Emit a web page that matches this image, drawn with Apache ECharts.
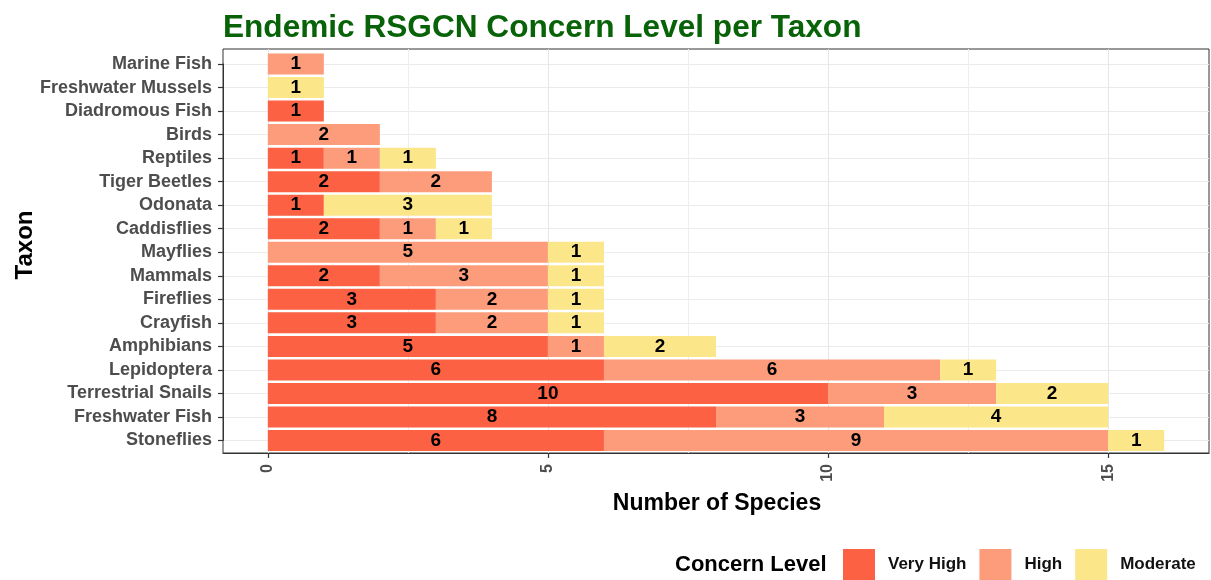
<!DOCTYPE html>
<html>
<head>
<meta charset="utf-8">
<title>Endemic RSGCN Concern Level per Taxon</title>
<script src="https://cdn.jsdelivr.net/npm/echarts@6/dist/echarts.min.js"></script>
<style>
  html, body { margin: 0; padding: 0; background: #ffffff; }
  #chart { width: 1211px; height: 580px; }
</style>
</head>
<body>
<div id="chart"></div>
<script>
// Taxa, listed top to bottom
const categories = ['Marine Fish', 'Freshwater Mussels', 'Diadromous Fish', 'Birds', 'Reptiles',
  'Tiger Beetles', 'Odonata', 'Caddisflies', 'Mayflies', 'Mammals', 'Fireflies', 'Crayfish',
  'Amphibians', 'Lepidoptera', 'Terrestrial Snails', 'Freshwater Fish', 'Stoneflies'];

// Number of species per concern level (null = none)
const veryHigh = [null, null, 1, null, 1, 2, 1, 2, null, 2, 3, 3, 5, 6, 10, 8, 6];
const high     = [1, null, null, 2, 1, 2, null, 1, 5, 3, 2, 2, 1, 6, 3, 3, 9];
const moderate = [null, 1, null, null, 1, null, 3, 1, 1, 1, 1, 1, 2, 1, 2, 4, 1];

const levelNames = ['Very High', 'High', 'Moderate'];
const xMajorTicks = [0, 5, 10, 15];
const xMinorTicks = [2.5, 7.5, 12.5];

const FONT = '"Liberation Sans", Arial, sans-serif';
const colors = ['#FB6142', '#FC9C7B', '#FBE68A'];
const X_MIN = -0.8, X_MAX = 16.8;

const chart = echarts.init(document.getElementById('chart'), null, { renderer: 'canvas' });

function levelSeries(name, values, color) {
  return {
    name: name,
    type: 'bar',
    stack: 'total',
    xAxisIndex: 2,
    yAxisIndex: 1,
    barWidth: 21,
    data: values,
    itemStyle: { color: color },
    emphasis: { disabled: true },
    label: {
      show: true,
      position: 'inside',
      color: '#000000',
      fontFamily: FONT,
      fontWeight: 'bold',
      fontSize: 19,
      formatter: p => (p.value == null ? '' : String(p.value))
    }
  };
}

const option = {
  animation: false,
  backgroundColor: '#ffffff',
  textStyle: { fontFamily: FONT },
  title: {
    text: 'Endemic RSGCN Concern Level per Taxon',
    left: 223,
    top: 12,
    padding: 0,
    textStyle: { color: '#086208', fontFamily: FONT, fontWeight: 'bold', fontSize: 31.6 }
  },
  legend: {
    data: levelNames,
    left: 843,
    top: 549,
    padding: 0,
    orient: 'horizontal',
    icon: 'rect',
    itemWidth: 32,
    itemHeight: 31,
    itemGap: 13,
    selectedMode: false,
    textStyle: {
      color: '#111111', fontFamily: FONT, fontWeight: 'bold', fontSize: 17,
      padding: [0, 0, 0, 8]
    }
  },
  grid: [
    // panel frame with vertical grid lines
    { left: 223, right: 2, top: 49, bottom: 127, show: true, borderColor: '#333333', borderWidth: 1,
      backgroundColor: '#ffffff', outerBoundsMode: 'none' },
    // data area: categories sit on the ticks
    { left: 223, right: 2, top: 64, bottom: 139.5, outerBoundsMode: 'none' }
  ],
  xAxis: [
    {
      type: 'value', gridIndex: 0, min: X_MIN, max: X_MAX, position: 'bottom',
      axisLine: { show: true, onZero: false, lineStyle: { color: '#333333', width: 1 } },
      axisTick: { show: true, length: 5, customValues: xMajorTicks, lineStyle: { color: '#333333', width: 1.2 } },
      axisLabel: {
        show: true, customValues: xMajorTicks, rotate: 90, margin: 11,
        color: '#4D4D4D', fontFamily: FONT, fontWeight: 'bold', fontSize: 16
      },
      splitLine: { show: true, lineStyle: { color: '#E6E6E6', width: 1 } }
    },
    {
      type: 'value', gridIndex: 0, min: X_MIN, max: X_MAX, position: 'bottom', offset: 0,
      axisLine: { show: false, onZero: false },
      axisTick: { show: false, customValues: xMinorTicks },
      axisLabel: { show: false, customValues: xMinorTicks },
      splitLine: { show: true, lineStyle: { color: '#EEEEEE', width: 1 } }
    },
    {
      type: 'value', gridIndex: 1, min: X_MIN, max: X_MAX, show: false,
      axisLine: { onZero: false },
      splitLine: { show: false }
    }
  ],
  yAxis: [
    { type: 'value', gridIndex: 0, min: 0, max: 1, show: false, splitLine: { show: false } },
    {
      type: 'category', gridIndex: 1, data: categories, inverse: true, boundaryGap: false,
      position: 'left',
      axisLine: { show: true, onZero: false, lineStyle: { color: '#333333', width: 1 } },
      axisTick: { show: true, length: 5, interval: 0, lineStyle: { color: '#333333', width: 1.2 } },
      axisLabel: {
        interval: 0, margin: 11, color: '#4D4D4D',
        fontFamily: FONT, fontWeight: 'bold', fontSize: 18
      },
      splitLine: { show: true, interval: 0, lineStyle: { color: '#EBEBEB', width: 1 } }
    }
  ],
  graphic: [
    {
      type: 'text', x: 717, y: 504,
      style: {
        text: 'Number of Species', fill: '#000000',
        font: 'bold 23px ' + FONT, textAlign: 'center', textVerticalAlign: 'middle'
      }
    },
    {
      type: 'text', x: 25, y: 245, rotation: Math.PI / 2,
      style: {
        text: 'Taxon', fill: '#000000',
        font: 'bold 24px ' + FONT, textAlign: 'center', textVerticalAlign: 'middle'
      }
    },
    {
      type: 'text', x: 675, y: 565,
      style: {
        text: 'Concern Level', fill: '#000000',
        font: 'bold 22px ' + FONT, textAlign: 'left', textVerticalAlign: 'middle'
      }
    }
  ],
  series: [
    levelSeries(levelNames[0], veryHigh, colors[0]),
    levelSeries(levelNames[1], high, colors[1]),
    levelSeries(levelNames[2], moderate, colors[2])
  ]
};

chart.setOption(option);
</script>
</body>
</html>
